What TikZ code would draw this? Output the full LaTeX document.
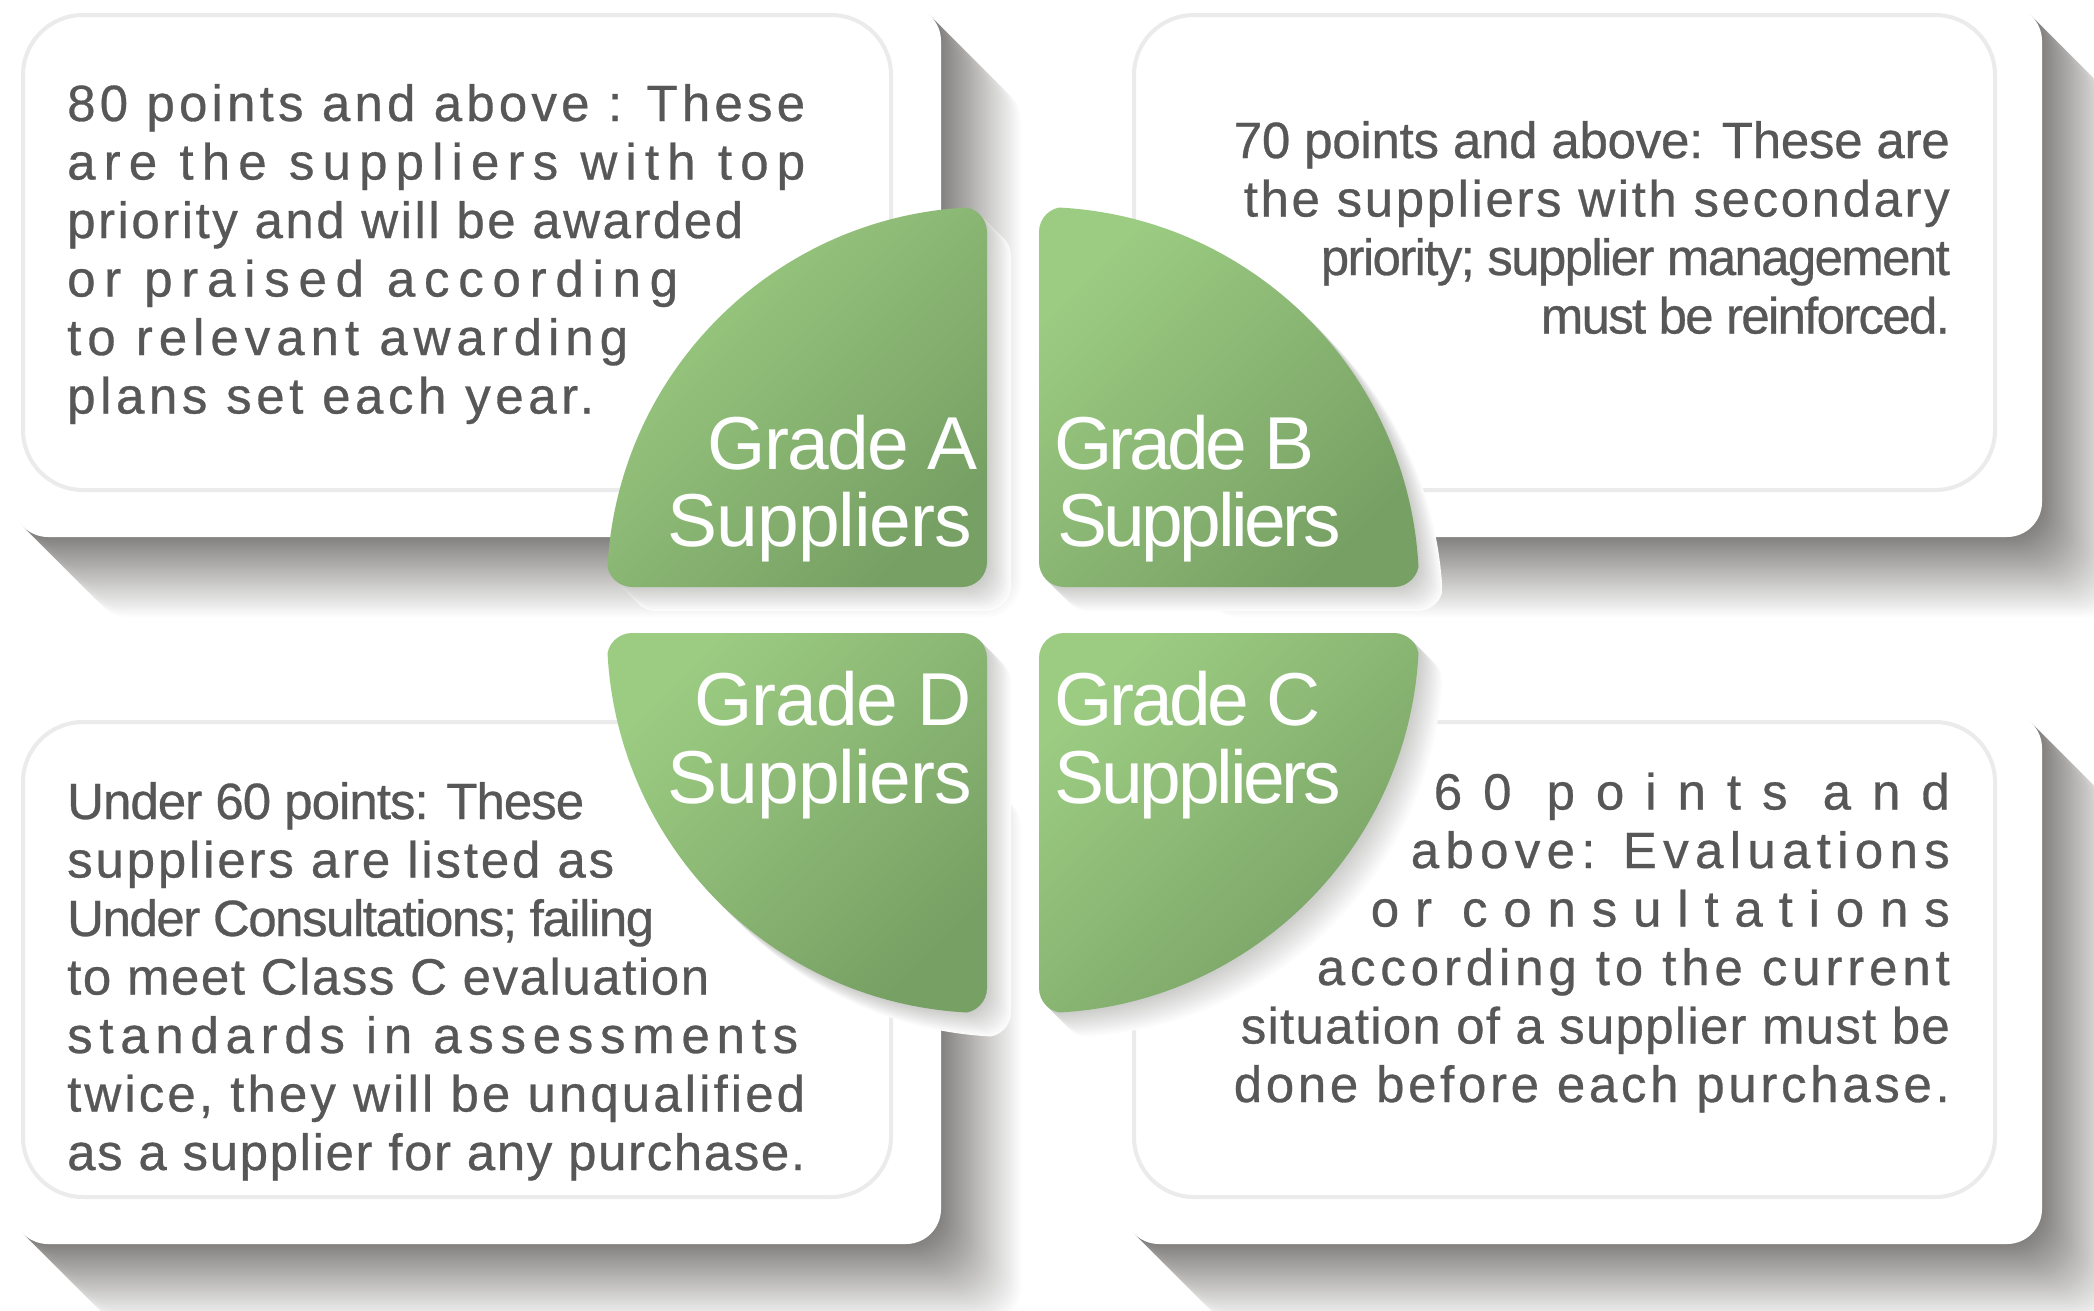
\documentclass[tikz,border=0pt]{standalone}
\usepackage{fontspec}
\setmainfont{Liberation Sans}

\definecolor{bodygray}{HTML}{575757}
\definecolor{framegray}{HTML}{EBEBEB}
\definecolor{shadowtone}{HTML}{858381}
\definecolor{leaflight}{HTML}{9CCC82}
\definecolor{leafdark}{HTML}{77A064}

% a line spread to a given width by letter spacing
\newsavebox\fitboxA
\newsavebox\fitboxB
\newcommand\fitline[2]{%
  \sbox\fitboxA{#2}%
  \sbox\fitboxB{\addfontfeature{LetterSpace=10}#2}%
  \pgfmathsetmacro\fitls{(#1-\the\wd\fitboxA)/(\the\wd\fitboxB-\the\wd\fitboxA)}%
  \pgfmathsetmacro\fitls{round(1000*\fitls)/100}%
  \makebox[#1][s]{\addfontfeature{LetterSpace=\fitls}#2}}

\tikzset{
  card/.style={fill=white, rounded corners=35pt},
  cardframe/.style={draw=framegray, line width=4pt, rounded corners=60pt},
  leaf/.style={top color=leaflight, bottom color=leafdark, shading angle=45, rounded corners=25pt},
  bodyline/.style={inner sep=0pt, text=bodygray, font=\fontsize{51}{58}\selectfont\addfontfeature{FakeBold=0.6}},
  gradelabel/.style={inner sep=0pt, text=white, font=\fontsize{75}{77}\selectfont},
}

\begin{document}
\begin{tikzpicture}[x=1pt,y=-1pt]
  \fill[white] (0,0) rectangle (2094,1310);
  \useasboundingbox (0,0) rectangle (2094,1310);

  % card shadows
  \foreach \x/\y/\w in {13/6/928, 1124/6/918, 13/713/928, 1124/713/918}
    \foreach \k in {40,...,1}{
      \pgfmathsetmacro\tone{100*(41-\k)/40}
      \fill[shadowtone!\tone!white, rounded corners=35pt] ({\x+2*\k},{\y+2*\k}) rectangle ++(\w,531);
    }
  % cards
  \foreach \x/\y/\w in {13/6/928, 1124/6/918, 13/713/928, 1124/713/918}
    \fill[card] (\x,\y) rectangle ++(\w,531);
  \foreach \x/\y/\w in {23/15/868, 1134/15/861, 23/722/868, 1134/722/861}
    \draw[cardframe] (\x,\y) rectangle ++(\w,475);

  % texts
  \foreach \len/\txt [count=\i from 0] in {738/{80 points and above : These}, 738/{are the suppliers with top},
      676/{priority and will be awarded}, 611/{or praised according}, 561/{to relevant awarding}, 527/{plans set each year.}}
    \node[bodyline, anchor=base west] (tl\i) at (67,{121+58.5*\i}) {\fitline{\len pt}{\txt}};
  \foreach \len/\txt [count=\i from 0] in {716/{70 points and above: These are}, 706/{the suppliers with secondary},
      629/{priority; supplier management}, 409/{must be reinforced.}}
    \node[bodyline, anchor=base east] (tr\i) at (1950,{158+58.5*\i}) {\fitline{\len pt}{\txt}};
  \foreach \len/\txt [count=\i from 0] in {517/{Under 60 points: These}, 547/{suppliers are listed as},
      587/{Under Consultations; failing}, 642/{to meet Class C evaluation}, 731/{standards in assessments},
      738/{twice, they will be unqualified}, 738/{as a supplier for any purchase.}}
    \node[bodyline, anchor=base west] (bl\i) at (67,{819+58.5*\i}) {\fitline{\len pt}{\txt}};
  \foreach \len/\txt [count=\i from 0] in {516/{60 points and}, 539/{above: Evaluations}, 579/{or consultations},
      633/{according to the current}, 709/{situation of a supplier must be}, 716/{done before each purchase.}}
    \node[bodyline, anchor=base east] (br\i) at (1950,{809.5+58.5*\i}) {\fitline{\len pt}{\txt}};

  % quarter discs
  \foreach \cx/\cy/\qx/\qy in {987/587/-1/-1, 1039/587/1/-1, 987/633/-1/1, 1039/633/1/1}{
    \foreach \k in {12,...,1}{
      \pgfmathsetmacro\tone{40*(13-\k)/12}
      \begin{scope}[shift={(2*\k,2*\k)}]
        \clip (\cx,\cy) circle[radius=380];
        \fill[shadowtone!\tone!white, rounded corners=25pt] (\cx,\cy) rectangle ++({380*\qx},{380*\qy});
      \end{scope}
    }
    \begin{scope}
      \clip (\cx,\cy) circle[radius=380];
      \path[leaf] (\cx,\cy) rectangle ++({380*\qx},{380*\qy});
    \end{scope}
  }

  \node[gradelabel, anchor=base east] (gradeA) at (978,469) {\fitline{270pt}{Grade A}};
  \node[gradelabel, anchor=base east] (suppA) at (972,546) {\fitline{304pt}{Suppliers}};
  \node[gradelabel, anchor=base west] (gradeB) at (1054,469) {\fitline{260pt}{Grade B}};
  \node[gradelabel, anchor=base west] (suppB) at (1057,546) {\fitline{284pt}{Suppliers}};
  \node[gradelabel, anchor=base east] (gradeD) at (972,725) {\fitline{277pt}{Grade D}};
  \node[gradelabel, anchor=base east] (suppD) at (972,803) {\fitline{304pt}{Suppliers}};
  \node[gradelabel, anchor=base west] (gradeC) at (1054,725) {\fitline{267pt}{Grade C}};
  \node[gradelabel, anchor=base west] (suppC) at (1054,803) {\fitline{287pt}{Suppliers}};
\end{tikzpicture}
\end{document}
